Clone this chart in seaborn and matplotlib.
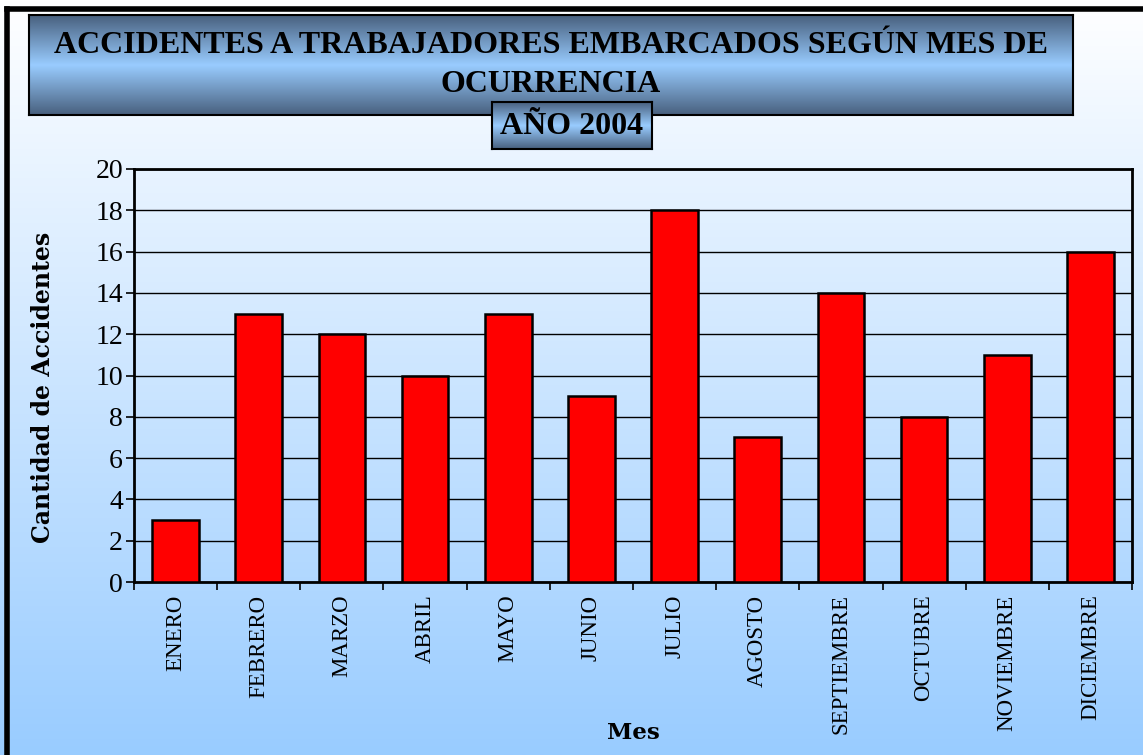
import numpy as np
import pandas as pd
import matplotlib
matplotlib.use("Agg")
import matplotlib.pyplot as plt
from matplotlib.colors import LinearSegmentedColormap
import seaborn as sns

# data
meses = ["ENERO", "FEBRERO", "MARZO", "ABRIL", "MAYO", "JUNIO", "JULIO",
         "AGOSTO", "SEPTIEMBRE", "OCTUBRE", "NOVIEMBRE", "DICIEMBRE"]
accidentes = [3, 13, 12, 10, 13, 9, 18, 7, 14, 8, 11, 16]
y_ticks = [0, 2, 4, 6, 8, 10, 12, 14, 16, 18, 20]

titulo = "ACCIDENTES A TRABAJADORES EMBARCADOS SEGÚN MES DE\nOCURRENCIA"
subtitulo = "AÑO 2004"

df = pd.DataFrame({"Mes": meses, "Accidentes": accidentes})

sns.set_style("white")
plt.rcParams["font.family"] = ["Liberation Serif", "DejaVu Serif"]
plt.rcParams["text.color"] = "black"
plt.rcParams["axes.labelcolor"] = "black"
plt.rcParams["xtick.color"] = "black"
plt.rcParams["ytick.color"] = "black"

W, H = 1143, 755
fig = plt.figure(figsize=(W / 100, H / 100), dpi=100)

# background gradient: near white at top to light blue at bottom
bg = fig.add_axes([0, 0, 1, 1], zorder=0)
bg_cmap = LinearSegmentedColormap.from_list("bg", ["#ffffff", "#99ccff"])
bg.imshow(np.linspace(0, 1, 256).reshape(-1, 1), aspect="auto", cmap=bg_cmap,
          extent=[0, 1, 0, 1], origin="upper")
bg.set_xlim(0, 1)
bg.set_ylim(0, 1)
bg.axis("off")
# outer frame (left and top visible)
bg.plot([7 / W, 7 / W], [0, 1 - 9 / H], color="black", lw=4, solid_capstyle="projecting")
bg.plot([7 / W, 1], [1 - 9 / H, 1 - 9 / H], color="black", lw=4, solid_capstyle="projecting")


def gradient_box(x0, y0, x1, y1, z):
    # box in pixel coords (top-left origin), dark-light-dark vertical gradient
    box = fig.add_axes([x0 / W, 1 - y1 / H, (x1 - x0) / W, (y1 - y0) / H], zorder=z)
    cmap = LinearSegmentedColormap.from_list("tb", ["#48607e", "#99ccff", "#48607e"])
    box.imshow(np.linspace(0, 1, 256).reshape(-1, 1), aspect="auto", cmap=cmap,
               extent=[0, 1, 0, 1], origin="upper")
    box.set_xticks([])
    box.set_yticks([])
    for s in box.spines.values():
        s.set_color("black")
        s.set_linewidth(1.5)
    return box


tb = gradient_box(29, 15, 1073, 115, 2)
fig.text(551 / W, 1 - 65 / H, titulo, ha="center", va="center", fontsize=23,
         fontweight="bold", linespacing=1.42, zorder=5)
sb = gradient_box(492, 102, 652, 149, 3)
fig.text(572 / W, 1 - 126 / H, subtitulo, ha="center", va="center", fontsize=23,
         fontweight="bold", zorder=6)

# main plot
ax = fig.add_axes([134 / W, 1 - 582 / H, (1132 - 134) / W, (582 - 169) / H], zorder=1)
ax.set_facecolor("none")
sns.barplot(data=df, x="Mes", y="Accidentes", color="#ff0000", width=0.56,
            edgecolor="black", linewidth=1.8, saturation=1, ax=ax, zorder=3)

ax.set_ylim(0, 20)
ax.set_yticks(y_ticks)
ax.yaxis.grid(True, color="black", lw=1)
ax.set_axisbelow(True)
ax.set_xlim(-0.5, len(meses) - 0.5)
ax.set_xticks(np.arange(len(meses) + 1) - 0.5, minor=False)
ax.set_xticklabels([])
ax.set_xticks(np.arange(len(meses)), minor=True)
ax.set_xticklabels(meses, minor=True, rotation=90, fontsize=16.5)
ax.tick_params(axis="x", which="minor", length=0, pad=9)
ax.tick_params(axis="x", which="major", direction="out", length=6, width=1.2, color="black")
ax.tick_params(axis="y", direction="out", length=6, width=1.2, color="black",
               labelsize=20, pad=2)
ax.xaxis.set_ticks_position("bottom")
ax.yaxis.set_ticks_position("left")
for s in ax.spines.values():
    s.set_visible(True)
    s.set_color("black")
    s.set_linewidth(2)

ax.set_ylabel("")
ax.set_xlabel("")
fig.text(43 / W, 1 - 387 / H, "Cantidad de Accidentes", rotation=90, ha="center",
         va="center", fontfamily="DejaVu Serif", fontweight="bold", fontsize=17)
fig.text(633 / W, 1 - 733 / H, "Mes", ha="center", va="center",
         fontfamily="DejaVu Serif", fontweight="bold", fontsize=16.5)

fig.savefig("out.png", dpi=100)
